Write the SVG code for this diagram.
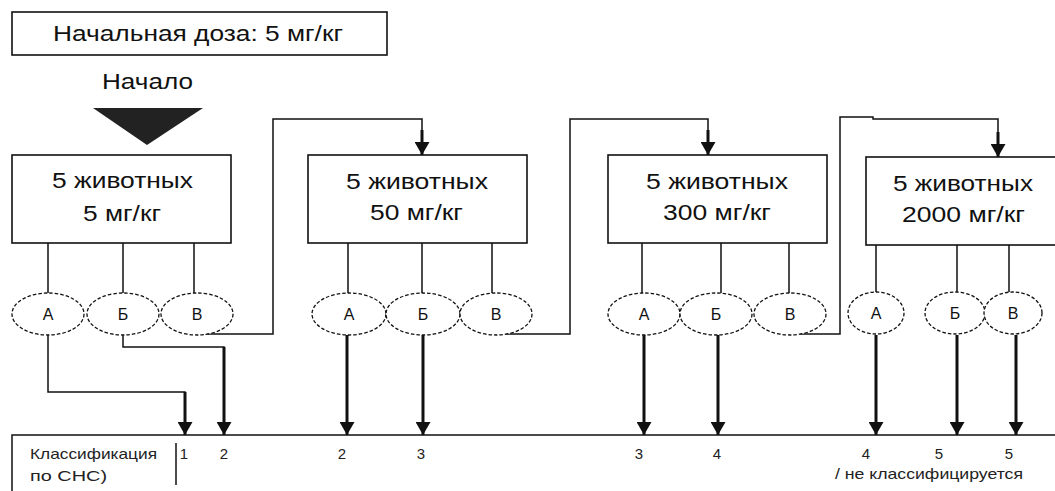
<svg xmlns="http://www.w3.org/2000/svg" width="1055" height="491" viewBox="0 0 1055 491">
<style>
.box{fill:#fff;stroke:#111;stroke-width:1.6}
.ell{fill:#fff;stroke:#111;stroke-width:1.3;stroke-dasharray:3.5 2}
.t{font-family:"Liberation Sans",Arial,sans-serif;fill:#111}
.big{font-size:22px}
.mid{font-size:16px}
.small{font-size:15px;fill:#222}
.ln{fill:none;stroke:#111;stroke-width:1.5}
.ar{fill:none;stroke:#111;stroke-width:3}
</style>
<defs>
<marker id="ahv" markerUnits="userSpaceOnUse" markerWidth="13" markerHeight="15" refX="13" refY="7.5" orient="auto" viewBox="0 0 13 15">
<path d="M0,0 L13,7.5 L0,15 Z" fill="#111"/>
</marker>
</defs>
<rect width="1055" height="491" fill="#fff"/>

<g id="start-dose">
<rect class="box" x="12" y="12" width="375" height="43"/>
<text class="t big" x="53" y="41" textLength="290" lengthAdjust="spacingAndGlyphs">Начальная доза: 5 мг/кг</text>
</g>

<g id="start">
<text class="t big" x="102" y="89" textLength="91" lengthAdjust="spacingAndGlyphs">Начало</text>
<path d="M93,108 L203,108 L147,145 Z" fill="#222"/>
</g>

<g id="group1">
<rect class="box" x="12" y="155" width="219" height="88"/>
<text class="t big" x="52" y="188" textLength="141" lengthAdjust="spacingAndGlyphs">5 животных</text>
<text class="t big" x="83" y="221" textLength="78" lengthAdjust="spacingAndGlyphs">5 мг/кг</text>
</g>
<g id="group2">
<rect class="box" x="308" y="155" width="219" height="88"/>
<text class="t big" x="346" y="189" textLength="142" lengthAdjust="spacingAndGlyphs">5 животных</text>
<text class="t big" x="370" y="220" textLength="93" lengthAdjust="spacingAndGlyphs">50 мг/кг</text>
</g>
<g id="group3">
<rect class="box" x="608" y="155" width="219" height="88"/>
<text class="t big" x="646" y="189" textLength="142" lengthAdjust="spacingAndGlyphs">5 животных</text>
<text class="t big" x="663" y="220" textLength="108" lengthAdjust="spacingAndGlyphs">300 мг/кг</text>
</g>
<g id="group4">
<rect class="box" x="866" y="157" width="200" height="88"/>
<text class="t big" x="893" y="191" textLength="140" lengthAdjust="spacingAndGlyphs">5 животных</text>
<text class="t big" x="902" y="222" textLength="123" lengthAdjust="spacingAndGlyphs">2000 мг/кг</text>
</g>

<g id="connectors">
<path class="ln" d="M48,243V293 M123,243V293 M194,243V293"/>
<path class="ln" d="M348,243V293 M422,243V293 M492,243V293"/>
<path class="ln" d="M642,243V293 M721,243V293 M789,243V293"/>
<path class="ln" d="M876,245V292 M957,245V292 M1009,245V292"/>
<path class="ln" d="M205,334H273V119H422V135"/>
<path class="ar" d="M422,130V155" marker-end="url(#ahv)"/>
<path class="ln" d="M505,334H570V119H708V135"/>
<path class="ar" d="M708,130V155" marker-end="url(#ahv)"/>
<path class="ln" d="M800,334H840V117H873V119H998V135"/>
<path class="ar" d="M998,132V157" marker-end="url(#ahv)"/>
<path class="ln" d="M48,335V392H185V400"/>
<path class="ar" d="M185,392V435" marker-end="url(#ahv)"/>
<path class="ln" d="M123,335V347H224V355"/>
<path class="ar" d="M224,347V435" marker-end="url(#ahv)"/>
<path class="ar" d="M347,335V435" marker-end="url(#ahv)"/>
<path class="ar" d="M423,335V435" marker-end="url(#ahv)"/>
<path class="ar" d="M644,335V435" marker-end="url(#ahv)"/>
<path class="ar" d="M718,335V435" marker-end="url(#ahv)"/>
<path class="ar" d="M876,335V435" marker-end="url(#ahv)"/>
<path class="ar" d="M957,335V435" stroke-width="2" marker-end="url(#ahv)"/>
<path class="ar" d="M1016,335V435" marker-end="url(#ahv)"/>
</g>

<g id="outcomes1">
<ellipse class="ell" cx="48" cy="314" rx="36" ry="21"/><text class="t mid" x="48" y="320" text-anchor="middle">А</text>
<ellipse class="ell" cx="123" cy="314" rx="36" ry="21"/><text class="t mid" x="123" y="320" text-anchor="middle">Б</text>
<ellipse class="ell" cx="197" cy="314" rx="36" ry="21"/><text class="t mid" x="197" y="320" text-anchor="middle">В</text>
</g>
<g id="outcomes2">
<ellipse class="ell" cx="349" cy="314" rx="37" ry="21"/><text class="t mid" x="349" y="320" text-anchor="middle">А</text>
<ellipse class="ell" cx="423" cy="314" rx="37" ry="21"/><text class="t mid" x="423" y="320" text-anchor="middle">Б</text>
<ellipse class="ell" cx="496" cy="314" rx="36" ry="21"/><text class="t mid" x="496" y="320" text-anchor="middle">В</text>
</g>
<g id="outcomes3">
<ellipse class="ell" cx="644" cy="314" rx="36" ry="21"/><text class="t mid" x="644" y="320" text-anchor="middle">А</text>
<ellipse class="ell" cx="716" cy="314" rx="36" ry="21"/><text class="t mid" x="716" y="320" text-anchor="middle">Б</text>
<ellipse class="ell" cx="790" cy="314" rx="36" ry="21"/><text class="t mid" x="790" y="320" text-anchor="middle">В</text>
</g>
<g id="outcomes4">
<ellipse class="ell" cx="876" cy="313" rx="28" ry="21"/><text class="t mid" x="876" y="319" text-anchor="middle">А</text>
<ellipse class="ell" cx="955" cy="313" rx="30" ry="21"/><text class="t mid" x="955" y="319" text-anchor="middle">Б</text>
<ellipse class="ell" cx="1013" cy="313" rx="29" ry="21"/><text class="t mid" x="1013" y="319" text-anchor="middle">В</text>
</g>

<g id="classification">
<path class="ln" d="M12,491V435H1055"/>
<path class="ln" d="M176,443V485"/>
<text class="t small" x="30" y="459" textLength="127" lengthAdjust="spacingAndGlyphs">Классификация</text>
<text class="t small" x="30" y="481" textLength="77" lengthAdjust="spacingAndGlyphs">по СНС)</text>
<text class="t small" x="184" y="459" text-anchor="middle">1</text>
<text class="t small" x="224" y="459" text-anchor="middle">2</text>
<text class="t small" x="342" y="459" text-anchor="middle">2</text>
<text class="t small" x="421" y="459" text-anchor="middle">3</text>
<text class="t small" x="639" y="459" text-anchor="middle">3</text>
<text class="t small" x="717" y="459" text-anchor="middle">4</text>
<text class="t small" x="866" y="459" text-anchor="middle">4</text>
<text class="t small" x="939" y="459" text-anchor="middle">5</text>
<text class="t small" x="1009" y="459" text-anchor="middle">5</text>
<text class="t small" x="835" y="479" textLength="188" lengthAdjust="spacingAndGlyphs">/ не классифицируется</text>
</g>
</svg>
